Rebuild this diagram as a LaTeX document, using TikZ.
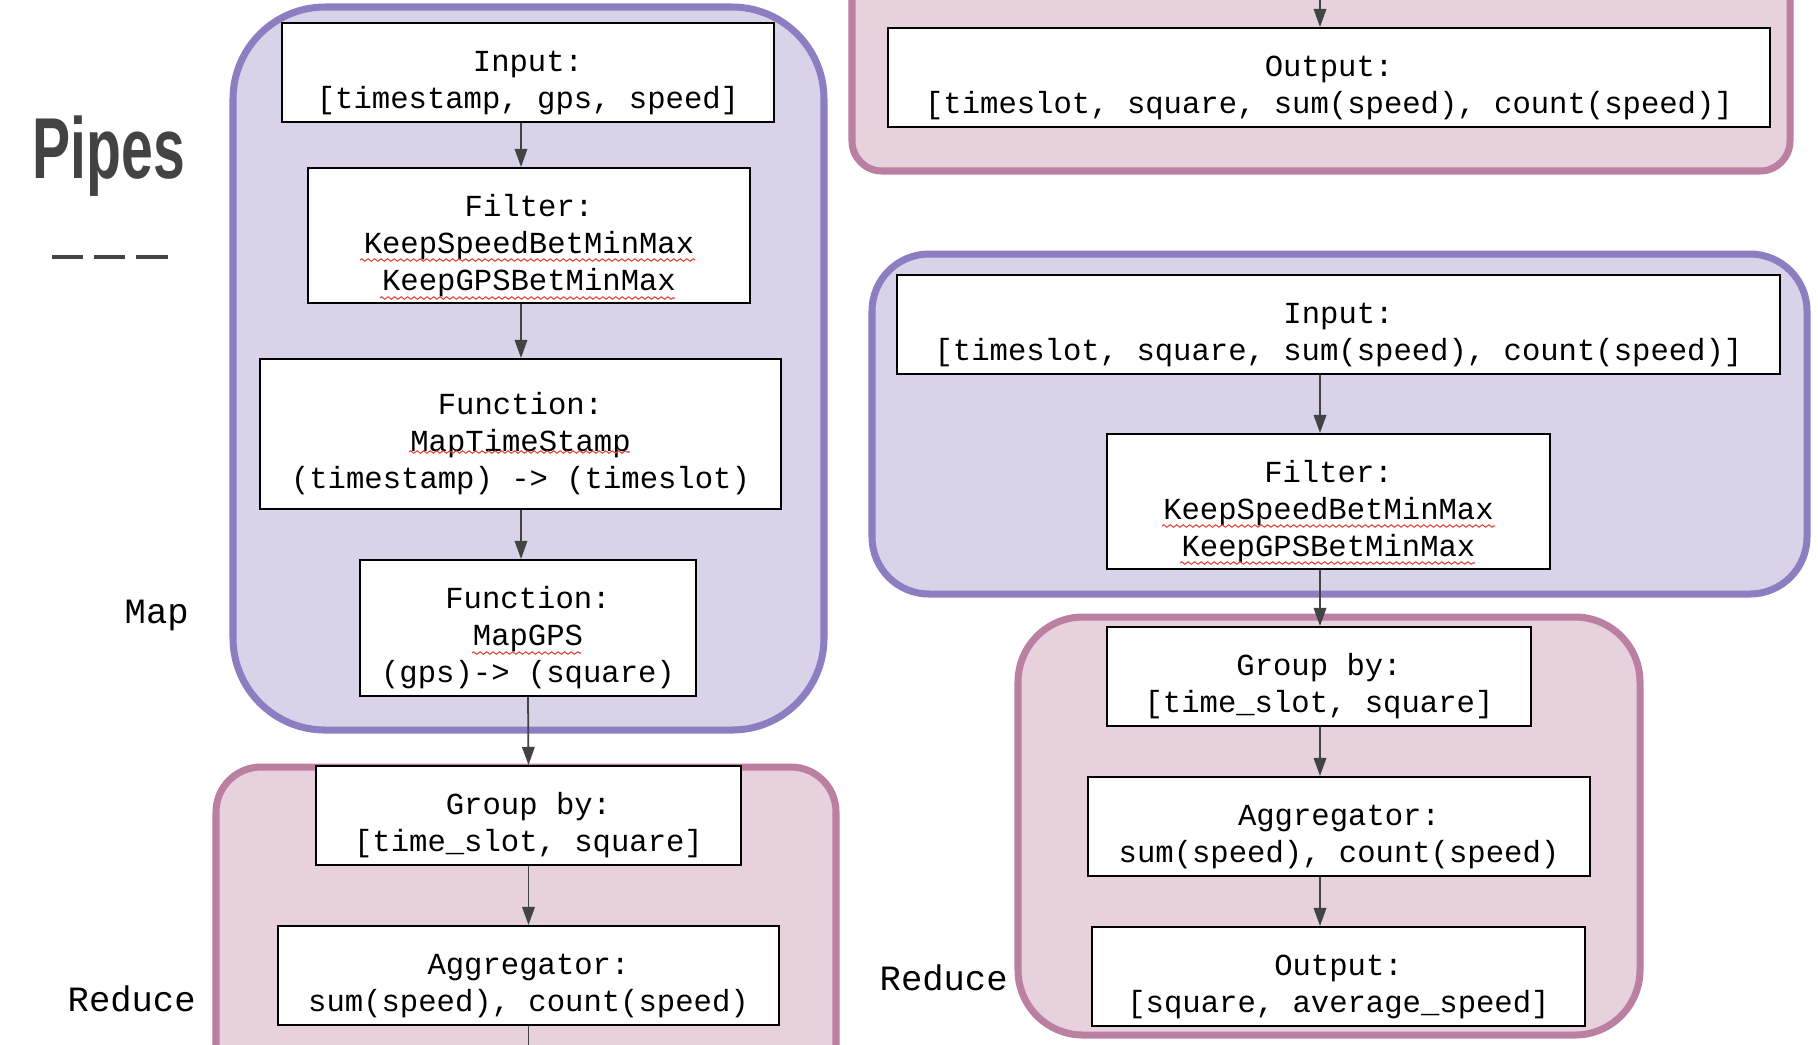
\documentclass[tikz,border=0pt]{standalone}
\usepackage{fontspec}
\setmainfont{Liberation Sans}
\setmonofont{Liberation Mono}
\usepackage{tikz}
\usetikzlibrary{arrows.meta,decorations.pathmorphing}

\definecolor{mapfill}{HTML}{D9D3E9}
\definecolor{mapline}{HTML}{8C7EC0}
\definecolor{redfill}{HTML}{E6D1DC}
\definecolor{redline}{HTML}{BA7FA1}
\definecolor{inkgray}{HTML}{434343}
\definecolor{spellred}{HTML}{E0453A}

\begin{document}
\begin{tikzpicture}[x=0.01cm,y=-0.01cm,
    stage/.style={draw=black,line width=0.57pt,fill=white,align=center,
      inner sep=1pt,text width=#1-2pt,
      font=\ttfamily\fontsize{8.7}{10.5}\selectfont,
      execute at begin node={\spaceskip=0.6em\xspaceskip=0.6em\relax
        \rule{0pt}{4.2mm}}},
    flow/.style={draw=inkgray,line width=0.5pt,
      -{Triangle[length=1.8mm,width=1.25mm]}},
    mapzone/.style={draw=mapline,fill=mapfill,line width=2pt,rounded corners=#1},
    redzone/.style={draw=redline,fill=redfill,line width=2pt,rounded corners=#1},
    phase/.style={anchor=base west,inner sep=0pt,
      font=\ttfamily\fontsize{10.1}{12}\selectfont},
    squiggle/.style={draw=spellred,line width=0.3pt,
      decorate,decoration={zigzag,amplitude=0.12mm,segment length=0.65mm}}]
  \clip (0,0) rectangle (1818,1044);

  % Title
  \node[anchor=base west,inner sep=0pt,text=inkgray,
    font=\bfseries\fontsize{24.6}{29}\selectfont] (title) at (32,178)
    {\scalebox{0.66}[1]{Pipes}};
  \foreach \a/\b in {52/83,94/125,136/168}
    \draw[inkgray,line width=1.15pt] (\a,257) -- (\b,257);

  % Stage backgrounds
  \draw[mapzone=9.2mm] (233,7) rectangle (824,730);
  \draw[redzone=4.5mm] (216,767) rectangle (836,1120);
  \draw[redzone=3mm] (852,-80) rectangle (1790,171);
  \draw[mapzone=5.7mm] (872,254) rectangle (1807,594);
  \draw[redzone=6.5mm] (1018,617) rectangle (1640,1035);

  % Left pipe
  \node[stage=4.92cm,minimum height=0.99cm] (inputA) at (528,72.5)
    {Input:\\{}[timestamp, gps, speed]};
  \node[stage=4.42cm,minimum height=1.35cm] (filterA) at (529,235.5)
    {Filter:\\KeepSpeedBetMinMax\\KeepGPSBetMinMax};
  \node[stage=5.21cm,minimum height=1.50cm] (mapTime) at (520.5,434)
    {Function:\\MapTimeStamp\\(timestamp) -> (timeslot)};
  \node[stage=3.36cm,minimum height=1.36cm] (mapGps) at (528,628)
    {Function:\\MapGPS\\(gps)-> (square)};
  \node[stage=4.25cm,minimum height=0.99cm] (groupA) at (528.5,815.5)
    {Group by:\\{}[time\_slot, square]};
  \node[stage=5.01cm,minimum height=0.99cm] (aggA) at (528.5,975.5)
    {Aggregator:\\sum(speed), count(speed)};

  % Right pipe
  \node[stage=8.82cm,minimum height=0.99cm] (outTop) at (1329,77.5)
    {Output:\\{}[timeslot, square, sum(speed), count(speed)]};
  \node[stage=8.83cm,minimum height=0.99cm] (inputB) at (1338.5,324.5)
    {Input:\\{}[timeslot, square, sum(speed), count(speed)]};
  \node[stage=4.43cm,minimum height=1.35cm] (filterB) at (1328.5,501.5)
    {Filter:\\KeepSpeedBetMinMax\\KeepGPSBetMinMax};
  \node[stage=4.24cm,minimum height=0.99cm] (groupB) at (1319,676.5)
    {Group by:\\{}[time\_slot, square]};
  \node[stage=5.02cm,minimum height=0.99cm] (aggB) at (1339,826.5)
    {Aggregator:\\sum(speed), count(speed)};
  \node[stage=4.93cm,minimum height=0.99cm] (outB) at (1338.5,976.5)
    {Output:\\{}[square, average\_speed]};

  % Stage labels
  \node[phase] (mapLabel) at (124,623) {Map};
  \node[phase] (reduceA) at (67,1011) {Reduce};
  \node[phase] (reduceB) at (879,990) {Reduce};

  % Spell-check marks
  \draw[squiggle] (360,260) -- (695,260);
  \draw[squiggle] (380,298) -- (675,298);
  \draw[squiggle] (409,452) -- (630,452);
  \draw[squiggle] (472,653) -- (581,653);
  \draw[squiggle] (1162,526) -- (1495,526);
  \draw[squiggle] (1180,563) -- (1475,563);

  % Connectors
  \coordinate (spineA) at (521,0);
  \coordinate (spineB) at (1320,0);
  \coordinate (exitA) at (528.5,1090);
  \coordinate (entryB) at (1320,-40);
  \draw[flow] (inputA.south -| spineA) -- (filterA.north -| spineA);
  \draw[flow] (filterA.south -| spineA) -- (mapTime.north -| spineA);
  \draw[flow] (mapTime.south -| spineA) -- (mapGps.north -| spineA);
  \draw[flow] (mapGps.south) -- (groupA.north);
  \draw[flow] (groupA) -- (aggA);
  \draw[flow] (aggA) -- (exitA);
  \draw[flow] (entryB) -- (outTop.north -| spineB);
  \draw[flow] (inputB.south -| spineB) -- (filterB.north -| spineB);
  \draw[flow] (filterB.south -| spineB) -- (groupB.north -| spineB);
  \draw[flow] (groupB.south -| spineB) -- (aggB.north -| spineB);
  \draw[flow] (aggB.south -| spineB) -- (outB.north -| spineB);
\end{tikzpicture}
\end{document}
